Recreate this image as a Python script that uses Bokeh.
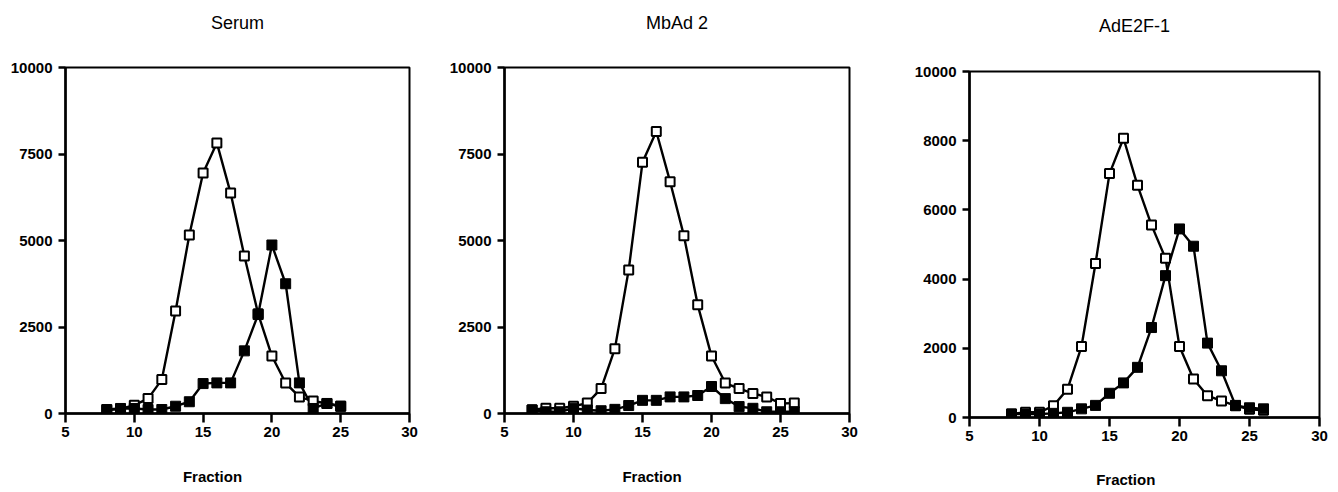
from bokeh.plotting import figure
from bokeh.layouts import row, column
from bokeh.models import Range1d, FixedTicker, LinearAxis, Spacer
from bokeh.embed import file_html
from bokeh.resources import INLINE

# ---- data ----
titles = ["Serum", "MbAd 2", "AdE2F-1"]
x_label = "Fraction"
x_ticks = [5, 10, 15, 20, 25, 30]
y_ticks_a = [0, 2500, 5000, 7500, 10000]
y_ticks_b = [0, 2000, 4000, 6000, 8000, 10000]

serum_x = list(range(8, 26))
serum_open = [100, 130, 240, 430, 980, 2960, 5160, 6950, 7820, 6370, 4550, 2880,
              1660, 880, 480, 360, 290, 210]
serum_filled = [115, 145, 145, 115, 115, 210, 340, 865, 885, 885, 1810, 2860,
                4870, 3750, 885, 145, 290, 210]

mbad_x = list(range(7, 27))
mbad_open = [110, 150, 150, 210, 300, 720, 1875, 4150, 7260, 8150, 6700, 5140,
             3140, 1660, 880, 720, 580, 480, 290, 300]
mbad_filled = [100, 50, 50, 150, 100, 80, 120, 230, 380, 380, 480, 480,
               520, 780, 430, 200, 150, 50, 50, 50]

ade_x = list(range(8, 27))
ade_open = [100, 150, 150, 340, 820, 2050, 4450, 7050, 8070, 6710, 5560, 4600,
            2050, 1110, 630, 480, 340, 240, 210]
ade_filled = [100, 100, 100, 120, 150, 250, 350, 700, 1000, 1450, 2600, 4100,
              5450, 4950, 2150, 1350, 350, 280, 250]

FONT = "Liberation Sans"
NBSP = "\u00a0"


def make_panel(title, xs, yo, yf, yticks, width, height, bl, br, bt, title_pad, label_pad, label_standoff):
    p = figure(width=width, height=height, x_range=Range1d(5, 30), y_range=Range1d(0, 10000),
               output_backend="svg", toolbar_location=None, title=None,
               min_border_left=bl, min_border_right=br, min_border_top=bt,
               min_border_bottom=height - bt - 346)
    p.grid.visible = False
    p.outline_line_color = "black"
    p.outline_line_width = 2
    p.background_fill_color = "white"
    p.border_fill_color = "white"

    for ax in (p.xaxis[0], p.yaxis[0]):
        ax.axis_line_width = 2.5
        ax.axis_line_color = "black"
        ax.major_tick_line_width = 2.5
        ax.major_tick_line_color = "black"
        ax.major_tick_in = 0
        ax.minor_tick_line_color = None
        ax.major_label_text_font = FONT
        ax.major_label_text_font_style = "bold"
        ax.major_label_text_font_size = "15px"
        ax.major_label_text_color = "black"
    p.xaxis.ticker = FixedTicker(ticks=x_ticks)
    p.yaxis.ticker = FixedTicker(ticks=yticks)
    p.xaxis.major_tick_out = 9
    p.xaxis.major_label_standoff = 4
    p.yaxis.major_tick_out = 7
    p.yaxis.major_label_standoff = 6
    p.yaxis.major_label_orientation = "horizontal"

    # x axis title
    p.xaxis.axis_label = x_label + NBSP * label_pad
    p.xaxis.axis_label_standoff = label_standoff
    p.xaxis.axis_label_text_font = FONT
    p.xaxis.axis_label_text_font_style = "bold"
    p.xaxis.axis_label_text_font_size = "15px"
    p.xaxis.axis_label_text_color = "black"

    # panel title drawn as the label of an empty axis above the frame
    top = LinearAxis(ticker=FixedTicker(ticks=[]), axis_line_color=None,
                     major_tick_out=0, major_tick_in=0, minor_tick_line_color=None,
                     major_label_standoff=0,
                     axis_label=title + NBSP * title_pad, axis_label_standoff=bt - 32,
                     axis_label_text_font=FONT, axis_label_text_font_style="normal",
                     axis_label_text_font_size="18px", axis_label_text_color="black")
    p.add_layout(top, "above")

    p.line(xs, yo, line_color="black", line_width=2.4)
    p.line(xs, yf, line_color="black", line_width=2.4)
    p.scatter(xs, yo, marker="square", size=9, fill_color="white", line_color="black", line_width=2)
    p.scatter(xs, yf, marker="square", size=10, fill_color="black", line_color="black", line_width=1)
    return p


p1 = make_panel(titles[0], serum_x, serum_open, serum_filled, y_ticks_a, 440, 490, 65, 31, 67, 0, 12, 28)
p2 = make_panel(titles[1], mbad_x, mbad_open, mbad_filled, y_ticks_a, 440, 490, 64, 31, 67, 0, 12, 28)
p3 = make_panel(titles[2], ade_x, ade_open, ade_filled, y_ticks_b, 450, 488, 89, 11, 68, 4, 9, 27)

layout = row(p1, p2, column(Spacer(height=3, width=450), p3))
open("out.html", "w").write(file_html(layout, INLINE))
